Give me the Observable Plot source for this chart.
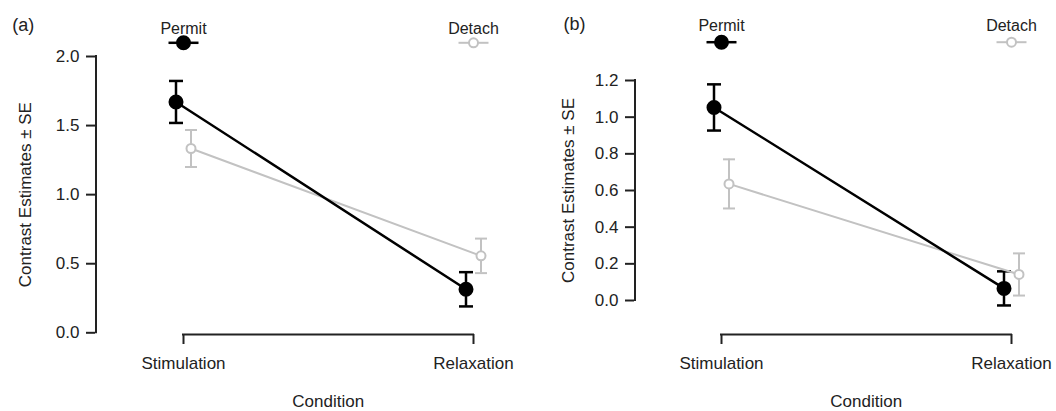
<!DOCTYPE html>
<html><head><meta charset="utf-8">
<script src="https://cdn.jsdelivr.net/npm/d3@7"></script>
<script src="https://cdn.jsdelivr.net/npm/@observablehq/plot@0.6"></script>
<style>
body{margin:0;background:#fff;}
#wrap{display:flex;width:1056px;height:411px;background:#fff;}
</style></head><body><div id="wrap"></div>
<script>
// ---- data ----
const conditions = ["Stimulation", "Relaxation"];
const seriesNames = ["Permit", "Detach"];
const panelLabels = ["(a)", "(b)"];
const yAxisTitle = "Contrast Estimates \u00b1 SE";
const xAxisTitle = "Condition";

const aPermitMean = [1.671, 0.315];
const aPermitSE   = [0.152, 0.124];
const aDetachMean = [1.334, 0.557];
const aDetachSE   = [0.134, 0.125];
const aTicks = [0, 0.5, 1.0, 1.5, 2.0];

const bPermitMean = [1.053, 0.066];
const bPermitSE   = [0.126, 0.093];
const bDetachMean = [0.636, 0.142];
const bDetachSE   = [0.134, 0.115];
const bTicks = [0, 0.2, 0.4, 0.6, 0.8, 1.0, 1.2];

// ---- styles ----
const ink = "#222";
const styles = {
  Permit: {stroke: "#000", fill: "#000", lineWidth: 2.5, r: 6.5, dx: -7.5, capR: 7},
  Detach: {stroke: "#c2c2c2", fill: "#fff", lineWidth: 2, r: 4.5, dx: 7.5, capR: 6}
};
const capSymbol = {draw(ctx, size) { const w = Math.sqrt(size / Math.PI); ctx.moveTo(-w, 0); ctx.lineTo(w, 0); }};

function panel(p) {
  const W = 528, H = 411, mB = 77, mR = 0;
  const rows = [];
  p.series.forEach(s => s.mean.forEach((m, i) =>
    rows.push({series: s.name, cond: conditions[i], mean: m, lo: m - s.se[i], hi: m + s.se[i]})));
  const yMax = p.ticks[p.ticks.length - 1];
  const frameCx = (p.marginLeft + W - mR) / 2;
  const catMid = ((p.marginLeft + p.insetLeft) + (W - mR - p.insetRight)) / 2;
  const frameBottom = H - mB;

  const marks = [
    Plot.ruleX([{c: conditions[0], lo: 0, hi: yMax}], {x: "c", y1: "lo", y2: "hi", dx: -p.insetLeft, stroke: ink, strokeWidth: 2, strokeLinecap: "square"}),
    Plot.axisY(p.ticks, {tickSize: 9, tickPadding: 7, tickFormat: d3.format(".1f"), color: ink, strokeWidth: 2, fontSize: 17, label: null}),
    Plot.ruleY([{a: conditions[0], b: conditions[1], v: 0}], {x1: "a", x2: "b", y: "v", dy: p.insetBottom, stroke: ink, strokeWidth: 2, strokeLinecap: "square"}),
    Plot.axisX({tickSize: 10, tickPadding: 12, color: ink, strokeWidth: 2, fontSize: 17, label: null}),
    Plot.text([{t: yAxisTitle, v: yMax / 2}], {text: "t", y: "v", frameAnchor: "left", textAnchor: "middle", dx: p.yLabelX - p.marginLeft, rotate: -90, fontSize: 17, fill: ink}),
    Plot.text([{t: xAxisTitle}], {text: "t", frameAnchor: "bottom", dx: catMid - frameCx, dy: 406 - frameBottom, lineAnchor: "bottom", fontSize: 17, fill: ink}),
    Plot.text([{t: p.label}], {text: "t", frameAnchor: "top-left", dx: p.labelX - p.marginLeft, dy: p.labelY - p.marginTop, textAnchor: "start", lineAnchor: "bottom", fontSize: 18, fill: ink})
  ];

  const order = ["Detach", "Permit"];
  for (const name of order) {
    const st = styles[name];
    const d = rows.filter(r => r.series === name);
    marks.push(
      Plot.ruleX(d, {x: "cond", y1: "lo", y2: "hi", dx: st.dx, stroke: st.stroke, strokeWidth: st.lineWidth}),
      Plot.dot(d, {x: "cond", y: "lo", symbol: capSymbol, r: st.capR, dx: st.dx, stroke: st.stroke, fill: "none", strokeWidth: st.lineWidth}),
      Plot.dot(d, {x: "cond", y: "hi", symbol: capSymbol, r: st.capR, dx: st.dx, stroke: st.stroke, fill: "none", strokeWidth: st.lineWidth})
    );
  }
  for (const name of order) {
    const st = styles[name];
    const d = rows.filter(r => r.series === name);
    marks.push(Plot.line(d, {x: "cond", y: "mean", dx: st.dx, stroke: st.stroke, strokeWidth: st.lineWidth}));
  }
  for (const name of order) {
    const st = styles[name];
    const d = rows.filter(r => r.series === name);
    marks.push(Plot.dot(d, {x: "cond", y: "mean", r: st.r, dx: st.dx, fill: st.fill, stroke: st.stroke, strokeWidth: 2}));
  }
  // legend: each series placed above a condition column
  seriesNames.forEach((name, i) => {
    const st = styles[name];
    const L = [{cat: conditions[i], name}];
    marks.push(
      Plot.dot(L, {x: "cat", frameAnchor: "top", dy: p.legSymY - p.marginTop, symbol: capSymbol, r: 15, stroke: st.stroke, fill: "none", strokeWidth: st.lineWidth}),
      Plot.dot(L, {x: "cat", frameAnchor: "top", dy: p.legSymY - p.marginTop, r: st.r, fill: st.fill, stroke: st.stroke, strokeWidth: 2}),
      Plot.text(L, {x: "cat", text: "name", frameAnchor: "top", dy: p.legTextY - p.marginTop, lineAnchor: "bottom", fontSize: 16, fill: ink})
    );
  });

  return Plot.plot({
    width: W, height: H,
    marginLeft: p.marginLeft, marginTop: p.marginTop, marginRight: mR, marginBottom: mB,
    style: {fontFamily: "'Liberation Sans', Arial, Helvetica, sans-serif", fontSize: "17px", background: "#fff", color: ink, overflow: "visible"},
    x: {type: "point", domain: conditions, padding: 0, insetLeft: p.insetLeft, insetRight: p.insetRight},
    y: {domain: [0, yMax], insetBottom: p.insetBottom},
    marks
  });
}

const wrap = document.getElementById("wrap");
wrap.appendChild(panel({
  label: panelLabels[0], ticks: aTicks,
  series: [{name: "Permit", mean: aPermitMean, se: aPermitSE}, {name: "Detach", mean: aDetachMean, se: aDetachSE}],
  marginLeft: 95, marginTop: 56, insetLeft: 87.5, insetRight: 55, insetBottom: 1.7,
  yLabelX: 25, legTextY: 33.3, legSymY: 42.3, labelX: 11.7, labelY: 30
}));
wrap.appendChild(panel({
  label: panelLabels[1], ticks: bTicks,
  series: [{name: "Permit", mean: bPermitMean, se: bPermitSE}, {name: "Detach", mean: bDetachMean, se: bDetachSE}],
  marginLeft: 106, marginTop: 80, insetLeft: 86.5, insetRight: 45, insetBottom: 34,
  yLabelX: 40, legTextY: 30, legSymY: 41.7, labelX: 35, labelY: 29.5
}));
</script></body></html>
